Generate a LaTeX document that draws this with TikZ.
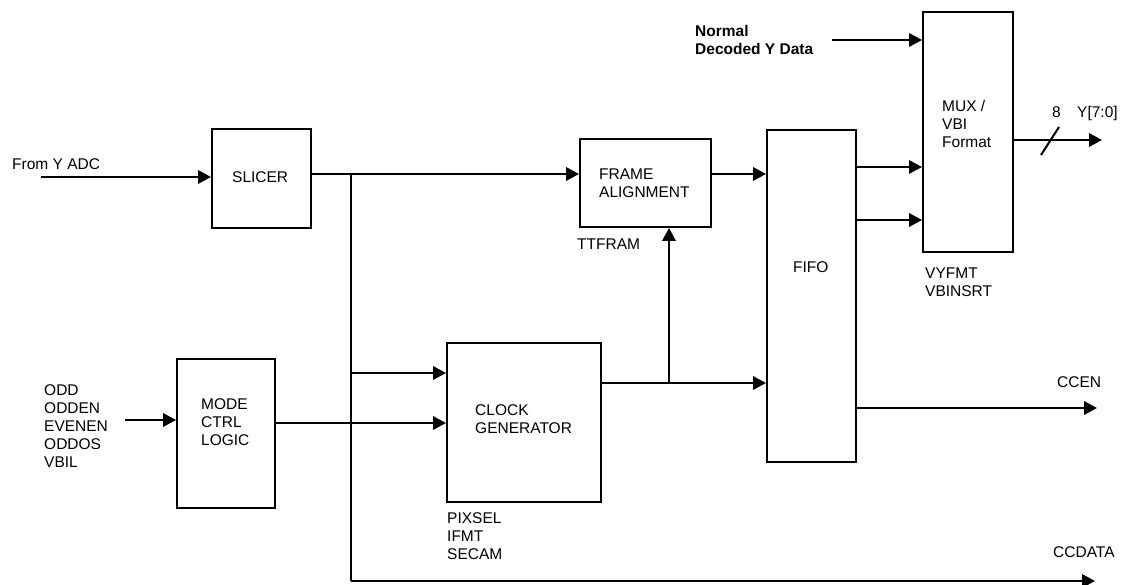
\documentclass[tikz,border=0pt]{standalone}
\usepackage{fontspec}
\setmainfont{Liberation Sans}
\usetikzlibrary{arrows.meta}
\begin{document}
\begin{tikzpicture}[x=1pt,y=-1pt,
  lw/.style={line width=2pt},
  blk/.style={draw,lw,rectangle,inner sep=0pt},
  arr/.style={lw,-{Triangle[length=13pt,width=13.5pt]}},
  ln/.style={lw},
  txt/.style={inner sep=0pt,anchor=base west,align=left,font=\fontsize{15.5}{18}\selectfont},
]
\useasboundingbox (0,0) rectangle (1127,585);
% blocks
\node[blk,minimum width=99pt,minimum height=99pt] (slicer) at (261.5,178.5) {};
\node[blk,minimum width=131pt,minimum height=88pt] (frame) at (645.5,183) {};
\node[blk,minimum width=89pt,minimum height=332pt] (fifo) at (811.5,296) {};
\node[blk,minimum width=90pt,minimum height=240pt] (mux) at (968,132) {};
\node[blk,minimum width=98pt,minimum height=149pt] (mode) at (226,433.5) {};
\node[blk,minimum width=154pt,minimum height=159pt] (clock) at (524,422.5) {};
% block texts (anchored at the baseline of the last line)
\node[txt] (tslicer) at (232,183) {SLICER};
\node[txt] (tframe) at (599,198) {FRAME\\ALIGNMENT};
\node[txt] (tfifo) at (793,273) {FIFO};
\node[txt] (tmux) at (942,148) {MUX /\\VBI\\Format};
\node[txt] (tmode) at (201,445) {MODE\\CTRL\\LOGIC};
\node[txt] (tclock) at (475,433) {CLOCK\\GENERATOR};
% other texts
\node[txt] (tadc) at (12,170) {From Y ADC};
\node[txt,font=\fontsize{15.5}{18}\selectfont\bfseries] (tnormal) at (695,55) {Normal\\Decoded Y Data};
\node[txt] (tttfram) at (577,250) {TTFRAM};
\node[txt] (tvy) at (925,297) {VYFMT\\VBINSRT};
\node[txt] (todd) at (44,467) {ODD\\ODDEN\\EVENEN\\ODDOS\\VBIL};
\node[txt] (tpix) at (447,559) {PIXSEL\\IFMT\\SECAM};
\node[txt] (tccen) at (1057,387) {CCEN};
\node[txt] (tccdata) at (1053,557) {CCDATA};
\node[txt] (teight) at (1052,118) {8};
\node[txt] (tyout) at (1077,118) {Y[7:0]};
% coordinates
\coordinate (adc) at (41,177);
\coordinate (oddin) at (125,420);
\coordinate (normin) at (832,40);
\coordinate (tap) at (351,174);
\coordinate (bot) at (351,581);
\coordinate (ccdata) at (1095,581);
\coordinate (ccen) at (1097,408);
\coordinate (yout) at (1102,140);
\coordinate (junc) at (669,383);
\coordinate (s1) at (1041,155);
\coordinate (s2) at (1059,127);
% connectors
\draw[arr] (adc) -- (adc -| slicer.west);
\draw[arr] (slicer.east |- tap) -- (tap -| frame.west);
\draw[ln] (tap) -- (bot);
\draw[arr] (bot) -- (ccdata);
\draw[arr] (351,373) -- (clock.west |- 0,373);
\draw[arr] (mode.east |- 0,423) -- (clock.west |- 0,423);
\draw[arr] (oddin) -- (oddin -| mode.west);
\draw[arr] (clock.east |- junc) -- (junc -| fifo.west);
\draw[arr] (junc) -- (junc |- frame.south);
\draw[arr] (frame.east |- tap) -- (tap -| fifo.west);
\draw[arr] (fifo.east |- 0,167) -- (mux.west |- 0,167);
\draw[arr] (fifo.east |- 0,220) -- (mux.west |- 0,220);
\draw[arr] (normin) -- (normin -| mux.west);
\draw[arr] (mux.east |- yout) -- (yout);
\draw[lw] (s1) -- (s2);
\draw[arr] (fifo.east |- ccen) -- (ccen);
\end{tikzpicture}
\end{document}
